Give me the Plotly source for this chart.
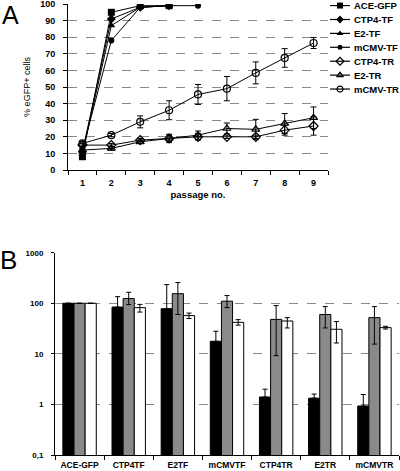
import plotly.graph_objects as go

# ---------------- Panel A data ----------------
passage = [1, 2, 3, 4, 5, 6, 7, 8, 9]
series_names = ["ACE-GFP", "CTP4-TF", "E2-TF", "mCMV-TF", "CTP4-TR", "E2-TR", "mCMV-TR"]
ace_gfp = [8, 95, 99, 99]
ctp4_tf = [11, 91, 98, 99]
e2_tf = [10, 87, 98, 99]
mcmv_tf = [12, 78, 98, 99, 99]
ctp4_tr = [15, 15, 18, 19, 20, 20, 20, 24, 26.5]
ctp4_tr_err = [1, 1, 1, 2, 2, 1, 1, 3, 5.5]
e2_tr = [12, 13, 17, 19, 21, 25, 24.5, 28, 31.5]
e2_tr_err = [1, 1, 1, 2.5, 2.5, 3.3, 6, 6, 6.5]
mcmv_tr = [16, 21, 29, 36, 45.5, 49, 58.5, 67.5, 76.5]
mcmv_tr_err = [1, 1, 3.6, 5.7, 6, 7.3, 6.6, 5.6, 3.3]

# ---------------- Panel B data ----------------
constructs = ["ACE-GFP", "CTP4TF", "E2TF", "mCMVTF", "CTP4TR", "E2TR", "mCMVTR"]
black_vals = [100, 84, 78, 17.7, 1.4, 1.33, 0.93]
black_up = [0, 51, 156, 10.3, 0.6, 0.27, 0.64]
gray_vals = [100, 124, 155, 110, 48, 60, 52]
gray_up = [0, 41, 102, 32, 42, 26, 34]
gray_dn = [0, 30, 95, 28, 38.8, 27.5, 36.4]
white_vals = [100, 82, 57, 42, 44.6, 30.6, 33]
white_up = [0, 13, 7, 5.5, 7.4, 12.9, 2]
white_dn = [0, 15, 7, 5, 12.1, 14.2, 2]

FONT = "Liberation Sans, Arial, sans-serif"
fig = go.Figure()

markers = {
    "ACE-GFP": dict(symbol="square", color="black", size=7),
    "CTP4-TF": dict(symbol="diamond", color="black", size=7),
    "E2-TF": dict(symbol="triangle-up", color="black", size=7),
    "mCMV-TF": dict(symbol="circle", color="black", size=6),
    "CTP4-TR": dict(symbol="diamond-open", color="black", size=7),
    "E2-TR": dict(symbol="triangle-up-open", color="black", size=7),
    "mCMV-TR": dict(symbol="circle-open", color="black", size=7),
}
ydata = {
    "ACE-GFP": (ace_gfp, None), "CTP4-TF": (ctp4_tf, None), "E2-TF": (e2_tf, None),
    "mCMV-TF": (mcmv_tf, None), "CTP4-TR": (ctp4_tr, ctp4_tr_err),
    "E2-TR": (e2_tr, e2_tr_err), "mCMV-TR": (mcmv_tr, mcmv_tr_err),
}
for name in series_names:
    ys, err = ydata[name]
    m = dict(markers[name])
    if "open" in m["symbol"]:
        m["line"] = dict(color="black", width=1.2)
    tr = dict(x=passage[:len(ys)], y=ys, mode="lines+markers", name=name,
              line=dict(color="black", width=1), marker=m, showlegend=False,
              xaxis="x", yaxis="y")
    if err is not None:
        tr["error_y"] = dict(type="data", array=err, color="black", thickness=1, width=3)
    fig.add_trace(go.Scatter(**tr))

# custom legend (axis x3/y3)
for i, name in enumerate(series_names):
    m = dict(markers[name])
    m["size"] = m["size"] - 1
    if "open" in m["symbol"]:
        m["line"] = dict(color="black", width=1.2)
    fig.add_trace(go.Scatter(x=[0, 10, 20], y=[i, i, i], mode="lines", line=dict(color="black", width=1.2),
                             showlegend=False, xaxis="x3", yaxis="y3", hoverinfo="skip"))
    fig.add_trace(go.Scatter(x=[10], y=[i], mode="markers", marker=m,
                             showlegend=False, xaxis="x3", yaxis="y3", hoverinfo="skip"))
    fig.add_annotation(x=22, y=i, xref="x3", yref="y3", text=name, showarrow=False,
                       xanchor="left", yanchor="middle",
                       font=dict(family=FONT, size=9.5, color="black", weight="bold"))

# Panel B bars
fig.add_trace(go.Bar(x=constructs, y=black_vals, marker=dict(color="black", line=dict(color="black", width=1)),
                     error_y=dict(type="data", array=black_up, arrayminus=[0]*7, color="black", thickness=1, width=2.5),
                     xaxis="x2", yaxis="y2", showlegend=False))
fig.add_trace(go.Bar(x=constructs, y=gray_vals, marker=dict(color="#8a8a8a", line=dict(color="black", width=1)),
                     error_y=dict(type="data", array=gray_up, arrayminus=gray_dn, color="black", thickness=1, width=2.5),
                     xaxis="x2", yaxis="y2", showlegend=False))
fig.add_trace(go.Bar(x=constructs, y=white_vals, marker=dict(color="white", line=dict(color="black", width=1)),
                     error_y=dict(type="data", array=white_up, arrayminus=white_dn, color="black", thickness=1, width=2.5),
                     xaxis="x2", yaxis="y2", showlegend=False))

grid = dict(showgrid=True, gridcolor="#888888", griddash="dash", gridwidth=1)
tickfont = dict(family=FONT, size=9, color="black", weight="bold")

fig.update_layout(
    width=400, height=471, margin=dict(l=0, r=0, t=0, b=0),
    template="none", paper_bgcolor="white", plot_bgcolor="white",
    barmode="group", bargap=0.32, bargroupgap=0,
    font=dict(family=FONT, color="black"),
    xaxis=dict(domain=[68/400, 328/400], anchor="y", range=[0.5, 9.5], tickvals=passage,
               ticks="", showline=True, linecolor="black", linewidth=1, showgrid=False,
               zeroline=False, tickfont=tickfont, automargin=False, ticklabelstandoff=4,
               minor=dict(ticks="outside", tick0=0.5, dtick=1, ticklen=4, tickcolor="black", showgrid=False),
               title=dict(text="passage no.", font=dict(family=FONT, size=9.5, weight="bold"), standoff=4)),
    yaxis=dict(domain=[(471-170)/471, (471-4)/471], anchor="x", range=[0, 100], dtick=10,
               ticks="outside", ticklen=4, tickcolor="black", showline=True, linecolor="black",
               linewidth=1, zeroline=False, tickfont=tickfont, automargin=False, ticklabelstandoff=6,
               ticklabeloverflow="allow",
               title=dict(text="% eGFP+ cells", font=dict(family=FONT, size=9), standoff=8),
               **grid),
    xaxis2=dict(domain=[55/400, 399/400], anchor="y2", type="category", tickson="boundaries",
                ticks="outside", ticklen=4, tickcolor="black", showline=True, linecolor="black",
                linewidth=1, showgrid=False, zeroline=False, automargin=False, ticklabeloverflow="allow",
                tickfont=dict(family=FONT, size=8.5, color="black", weight="bold"), ticklabelstandoff=2),
    yaxis2=dict(domain=[16/471, (471-252.7)/471], anchor="x2", type="log", range=[-1, 3],
                tickvals=[0.1, 1, 10, 100, 1000], ticktext=["0,1", "1", "10", "100", "1000"],
                ticks="outside", ticklen=3, tickcolor="black", showline=True, linecolor="black",
                linewidth=1, zeroline=False, automargin=False, ticklabeloverflow="allow",
                tickfont=dict(family=FONT, size=8, color="black", weight="bold"), ticklabelstandoff=6,
                **grid),
    xaxis3=dict(domain=[330/400, 1.0], anchor="y3", range=[0, 70], visible=False, fixedrange=True),
    yaxis3=dict(domain=[(471-96)/471, 1.0], anchor="x3", range=[6.5, -0.4], visible=False, fixedrange=True),
)

fig.add_annotation(x=10/400, y=1-15/471, xref="paper", yref="paper", text="A", showarrow=False,
                   xanchor="center", yanchor="middle", font=dict(family=FONT, size=25, color="black"))
fig.add_annotation(x=8/400, y=1-259.5/471, xref="paper", yref="paper", text="B", showarrow=False,
                   xanchor="center", yanchor="middle", font=dict(family=FONT, size=26, color="black"))

fig.write_html("out.html", config={"displayModeBar": False, "staticPlot": True},
               post_script="document.body.style.margin='0';document.body.style.overflow='hidden';")
